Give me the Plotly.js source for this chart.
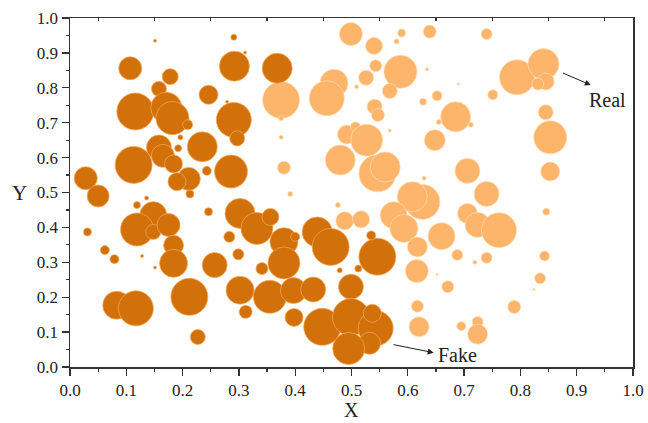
<!DOCTYPE html>
<html>
<head>
<meta charset="utf-8">
<script src="https://cdn.plot.ly/plotly-3.0.1.min.js"></script>
<style>html,body{margin:0;padding:0;background:#fff;}#chart{width:648px;height:423px;}</style>
</head>
<body>
<div id="chart"></div>
<script>
// Fake samples
const fakeX = [0.151,0.291,0.311,0.107,0.178,0.292,0.368,0.158,0.116,0.171,0.182,0.209,0.246,0.279,0.291,0.297,0.196,0.235,0.158,0.165,0.192,0.184,0.211,0.190,0.243,0.213,0.286,0.113,0.028,0.050,0.136,0.119,0.148,0.119,0.148,0.175,0.184,0.184,0.031,0.062,0.079,0.128,0.151,0.246,0.257,0.212,0.083,0.117,0.227,0.302,0.332,0.356,0.283,0.299,0.380,0.380,0.400,0.341,0.302,0.312,0.355,0.397,0.398,0.432,0.448,0.439,0.463,0.499,0.499,0.543,0.537,0.532,0.495,0.546,0.535,0.512,0.479];
const fakeY = [0.935,0.945,0.901,0.856,0.832,0.862,0.856,0.797,0.732,0.743,0.713,0.694,0.780,0.760,0.708,0.655,0.658,0.631,0.629,0.605,0.627,0.582,0.539,0.531,0.562,0.496,0.560,0.579,0.541,0.490,0.484,0.464,0.435,0.394,0.387,0.407,0.349,0.297,0.387,0.335,0.309,0.318,0.285,0.445,0.292,0.201,0.177,0.168,0.086,0.440,0.397,0.430,0.373,0.323,0.359,0.298,0.373,0.282,0.220,0.158,0.201,0.219,0.142,0.222,0.115,0.387,0.344,0.230,0.143,0.111,0.154,0.068,0.053,0.316,0.377,0.282,0.277];
const fakeZ = [3,6,3,23,16,30,30,15,37,31,33,10,19,3,35,15,5,30,25,23,7,18,23,18,9,8,33,37,23,22,4,7,27,33,15,23,20,28,8,9,9,3,3,8,25,37,28,35,15,30,32,17,11,11,28,32,9,12,28,13,33,26,18,25,37,30,37,25,37,35,18,22,32,37,9,7,5];

// Real samples
const realX = [0.499,0.540,0.589,0.580,0.639,0.740,0.543,0.526,0.509,0.587,0.568,0.634,0.690,0.469,0.456,0.652,0.627,0.751,0.794,0.841,0.845,0.831,0.845,0.853,0.853,0.541,0.547,0.685,0.655,0.712,0.568,0.492,0.507,0.527,0.648,0.480,0.546,0.560,0.706,0.740,0.629,0.626,0.608,0.575,0.593,0.660,0.706,0.724,0.762,0.617,0.616,0.688,0.719,0.740,0.671,0.617,0.620,0.695,0.724,0.724,0.789,0.846,0.843,0.835,0.824,0.652,0.476,0.488,0.517,0.375,0.375,0.375,0.380,0.391];
const realY = [0.954,0.920,0.957,0.933,0.961,0.954,0.863,0.829,0.803,0.846,0.791,0.853,0.811,0.813,0.770,0.777,0.760,0.780,0.830,0.868,0.818,0.811,0.730,0.658,0.560,0.746,0.722,0.717,0.702,0.694,0.678,0.666,0.688,0.650,0.650,0.593,0.555,0.573,0.562,0.496,0.541,0.473,0.488,0.435,0.397,0.375,0.440,0.407,0.392,0.344,0.275,0.321,0.300,0.313,0.230,0.174,0.115,0.117,0.129,0.094,0.172,0.445,0.318,0.254,0.222,0.265,0.464,0.419,0.423,0.765,0.713,0.658,0.571,0.496];
const realZ = [23,17,8,5,13,11,12,15,4,33,15,3,2,28,35,10,7,10,35,31,17,12,15,33,19,15,13,30,5,5,3,19,10,32,21,30,37,30,25,25,4,35,30,27,28,27,20,25,35,20,23,11,4,11,12,12,20,9,11,20,13,7,10,11,2,2,5,18,17,37,5,4,13,5];

const xTicks = [0,0.1,0.2,0.3,0.4,0.5,0.6,0.7,0.8,0.9,1.0];
const xTickText = ['0.0','0.1','0.2','0.3','0.4','0.5','0.6','0.7','0.8','0.9','1.0'];
const yTicks = xTicks;
const yTickText = xTickText;
const minorTicks = [0.05,0.15,0.25,0.35,0.45,0.55,0.65,0.75,0.85,0.95];

const FONT = 'Liberation Serif, Times New Roman, serif';

const traces = [
  {
    type: 'scatter', mode: 'markers', name: 'Real',
    x: realX, y: realY,
    marker: {size: realZ, sizemode: 'diameter', sizeref: 1, color: '#FDB46B', opacity: 1,
             line: {color: 'rgba(255,222,180,0.9)', width: 0.8}},
    hoverinfo: 'x+y'
  },
  {
    type: 'scatter', mode: 'markers', name: 'Fake',
    x: fakeX, y: fakeY,
    marker: {size: fakeZ, sizemode: 'diameter', sizeref: 1, color: '#D2700A', opacity: 1,
             line: {color: 'rgba(245,170,90,0.9)', width: 0.8}},
    hoverinfo: 'x+y'
  },
  {
    type: 'scatter', mode: 'markers', x: [0.5], y: [0.5], xaxis: 'x2',
    marker: {size: 1, color: 'rgba(0,0,0,0)'}, hoverinfo: 'skip', showlegend: false
  }
];

const minorStyle = {tickvals: minorTicks, ticks: 'outside', ticklen: 3, tickwidth: 1.2, tickcolor: '#333'};

const axisCommon = {
  range: [0, 1], showgrid: false, zeroline: false,
  showline: true, linecolor: '#333', linewidth: 1.5, mirror: true,
  ticks: 'outside', ticklen: 7, tickwidth: 1.3, tickcolor: '#333',
  tickfont: {family: FONT, size: 17, color: '#222'},
  minor: minorStyle
};

const layout = {
  width: 648, height: 423,
  margin: {l: 70, r: 15, t: 18, b: 56},
  paper_bgcolor: '#fff', plot_bgcolor: '#fff',
  showlegend: false,
  font: {family: FONT, color: '#222'},
  xaxis: Object.assign({}, axisCommon, {tickvals: xTicks, ticktext: xTickText}),
  yaxis: Object.assign({}, axisCommon, {tickvals: yTicks, ticktext: yTickText}),
  xaxis2: {
    overlaying: 'x', side: 'top', anchor: 'y', range: [0, 1],
    showgrid: false, zeroline: false, showline: false, showticklabels: false,
    tickvals: minorTicks, ticks: 'inside', ticklen: 3, tickwidth: 1.2, tickcolor: '#333'
  },
  annotations: [
    {xref: 'paper', yref: 'paper', x: 0.5, y: -0.09, text: 'X', showarrow: false, borderpad: 0,
     xanchor: 'center', yanchor: 'top', font: {family: FONT, size: 20, color: '#222'}},
    {xref: 'paper', yref: 'paper', x: -0.09, y: 0.5, text: 'Y', showarrow: false,
     xanchor: 'center', yanchor: 'middle', font: {family: FONT, size: 21, color: '#222'}},
    {x: 0.955, y: 0.765, text: 'Real', showarrow: false, xanchor: 'center', yanchor: 'middle',
     font: {family: FONT, size: 20, color: '#222'}},
    {x: 0.925, y: 0.808, ax: 0.873, ay: 0.844, axref: 'x', ayref: 'y', text: '', showarrow: true,
     arrowhead: 2, arrowsize: 1.2, arrowwidth: 1, arrowcolor: '#222'},
    {x: 0.688, y: 0.034, text: 'Fake', showarrow: false, xanchor: 'center', yanchor: 'middle',
     font: {family: FONT, size: 20, color: '#222'}},
    {x: 0.646, y: 0.041, ax: 0.572, ay: 0.065, axref: 'x', ayref: 'y', text: '', showarrow: true,
     arrowhead: 2, arrowsize: 1.2, arrowwidth: 1, arrowcolor: '#222'}
  ]
};

Plotly.newPlot('chart', traces, layout, {displayModeBar: false, staticPlot: true});
</script>
</body>
</html>
